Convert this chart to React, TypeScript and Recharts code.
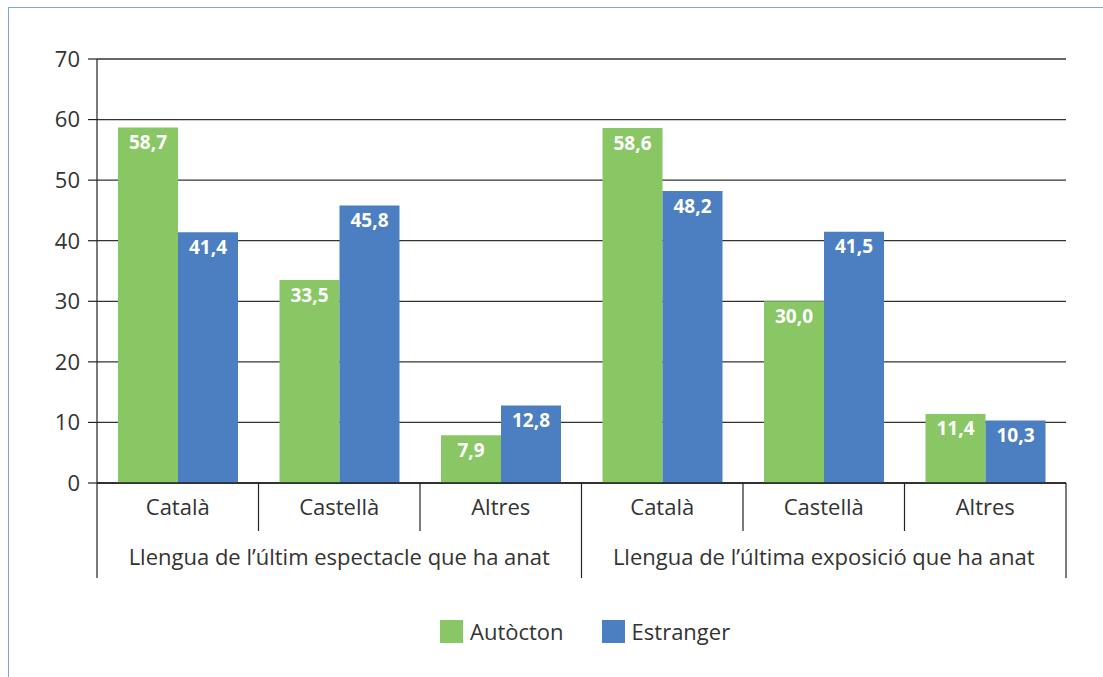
import React from 'react';
import { BarChart, Bar, XAxis, YAxis, CartesianGrid, LabelList } from 'recharts';

// categories, groups and the two series
const categories = ['Català', 'Castellà', 'Altres', 'Català', 'Castellà', 'Altres'];
const groups = [
  'Llengua de l\u2019últim espectacle que ha anat',
  'Llengua de l\u2019últim espectacle que ha anat',
  'Llengua de l\u2019últim espectacle que ha anat',
  'Llengua de l\u2019última exposició que ha anat',
  'Llengua de l\u2019última exposició que ha anat',
  'Llengua de l\u2019última exposició que ha anat',
];
const autocton = [58.7, 33.5, 7.9, 58.6, 30.0, 11.4];
const estranger = [41.4, 45.8, 12.8, 48.2, 41.5, 10.3];
const yTicks = [0, 10, 20, 30, 40, 50, 60, 70];

const seriesNames = ['Autòcton', 'Estranger'];
const GREEN = '#89c765';
const BLUE = '#4b7fc1';
const TEXT = '#333333';
const FONT = '"Open Sans", sans-serif';

const W = 1103;
const H = 677;
const MARGIN = { top: 59, right: 37, bottom: 96, left: 37 };
const Y_AXIS_W = 60;
const PLOT_W = W - MARGIN.left - MARGIN.right - Y_AXIS_W;
const BAND = PLOT_W / categories.length;
const CAT_H = 48;
const GRP_H = 50;
const PER_GROUP = 3;

const data = categories.map((cat, i) => ({
  cat,
  group: groups[i],
  autocton: autocton[i],
  estranger: estranger[i],
}));

const fmt = (v: any) => Number(v).toFixed(1).replace('.', ',');

// category labels plus the separator lines of the two-level axis
const CatTick = (props: any) => {
  const { x, y, payload, index } = props;
  const half = BAND / 2;
  const isGroupStart = index % PER_GROUP === 0;
  const isLast = index === categories.length - 1;
  return (
    <g>
      <line
        x1={x - half}
        x2={x - half}
        y1={y}
        y2={y + (isGroupStart ? CAT_H + GRP_H - 3 : CAT_H)}
        stroke="#222"
        strokeWidth={1.2}
      />
      {isLast && (
        <line x1={x + half} x2={x + half} y1={y} y2={y + CAT_H + GRP_H - 3} stroke="#222" strokeWidth={1.2} />
      )}
      <text x={x} y={y + 32} textAnchor="middle" fill={TEXT} fontSize={22} fontFamily={FONT}>
        {payload.value}
      </text>
    </g>
  );
};

const GroupTick = (props: any) => {
  const { x, y, payload, index } = props;
  if (index % PER_GROUP !== 1) return <g />;
  return (
    <text x={x} y={y + 34} textAnchor="middle" fill={TEXT} fontSize={22} fontFamily={FONT}>
      {payload.value}
    </text>
  );
};

export default function App() {
  return (
    <div style={{ position: 'absolute', left: 0, top: 0, width: W, height: H, background: '#fff', fontFamily: FONT }}>
      {/* light blue frame on the top and left */}
      <div
        style={{
          position: 'absolute',
          left: 8,
          top: 7,
          right: 0,
          bottom: 0,
          borderLeft: '1.5px solid #7fa9d2',
          borderTop: '1.5px solid #7fa9d2',
        }}
      />
      <BarChart width={W} height={H} data={data} margin={MARGIN} barGap={0} barSize={60}>
        <CartesianGrid vertical={false} stroke="#333" strokeWidth={1.3} />
        <YAxis
          width={Y_AXIS_W}
          domain={[0, 70]}
          ticks={yTicks}
          interval={0}
          tickSize={9}
          tickMargin={8}
          axisLine={{ stroke: '#222', strokeWidth: 1.2 }}
          tickLine={{ stroke: '#222', strokeWidth: 1.2 }}
          tick={{ fill: TEXT, fontSize: 22, fontFamily: FONT }}
        />
        <XAxis
          dataKey="cat"
          interval={0}
          height={CAT_H}
          tickSize={0}
          tickMargin={0}
          tickLine={false}
          axisLine={{ stroke: '#222', strokeWidth: 1.3 }}
          tick={<CatTick />}
        />
        <XAxis
          xAxisId="grp"
          dataKey="group"
          interval={0}
          height={GRP_H}
          tickSize={0}
          tickMargin={0}
          tickLine={false}
          axisLine={false}
          tick={<GroupTick />}
        />
        <Bar dataKey="autocton" name={seriesNames[0]} fill={GREEN} isAnimationActive={false}>
          <LabelList
            dataKey="autocton"
            position="insideTop"
            offset={8}
            formatter={fmt}
            fill="#fff"
            fontSize={19}
            fontWeight="bold"
            fontFamily={FONT}
          />
        </Bar>
        <Bar dataKey="estranger" name={seriesNames[1]} fill={BLUE} isAnimationActive={false}>
          <LabelList
            dataKey="estranger"
            position="insideTop"
            offset={8}
            formatter={fmt}
            fill="#fff"
            fontSize={19}
            fontWeight="bold"
            fontFamily={FONT}
          />
        </Bar>
      </BarChart>
      {/* legend */}
      <div
        style={{
          position: 'absolute',
          top: 616,
          left: 440,
          display: 'flex',
          gap: 38,
          fontSize: 22,
          color: TEXT,
        }}
      >
        {seriesNames.map((name, i) => (
          <div key={name} style={{ display: 'flex', alignItems: 'center', gap: 7 }}>
            <span style={{ display: 'inline-block', width: 23, height: 23, background: i === 0 ? GREEN : BLUE }} />
            <span>{name}</span>
          </div>
        ))}
      </div>
    </div>
  );
}
